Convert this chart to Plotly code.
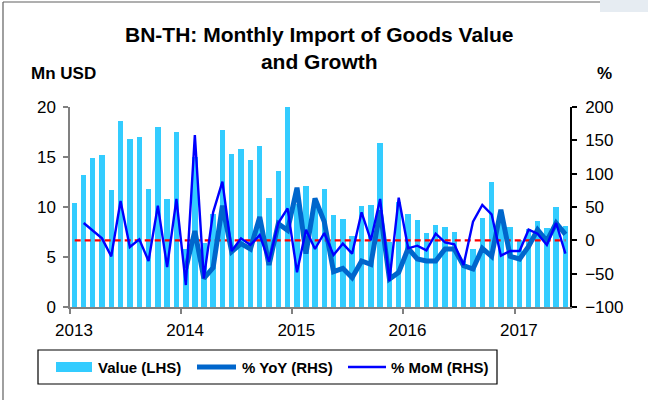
import plotly.graph_objects as go

# Monthly import of goods, Jan 2013 - Jun 2017
months = [f"{y}-{m:02d}-01" for y in range(2013, 2018) for m in range(1, 13)][:54]

value_mn_usd = [
    10.4, 13.2, 14.9, 15.2, 11.7, 18.6, 16.8, 17.0, 11.8, 18.0, 10.8, 17.5,
    5.8, 15.0, 6.4, 9.3, 17.7, 15.3, 15.8, 14.7, 16.1, 10.9, 13.6, 20.0,
    10.3, 12.1, 10.5, 11.8, 9.2, 8.8, 7.1, 10.1, 10.2, 16.4, 6.5, 10.5,
    9.3, 8.7, 7.4, 8.2, 8.0, 7.5, 4.6, 5.8, 8.9, 12.5, 9.5, 8.0,
    6.7, 7.8, 8.6, 7.9, 10.0, 8.1,
]

yoy_pct = [None] * 12 + [
    -42, 14, -57, -41, 52, -17, -5, -13, 35, -37, 25, 15,
    79, -20, 63, 28, -47, -42, -56, -31, -36, 45, -58, -48,
    -12, -28, -31, -31, -13, -13, -38, -43, -12, -24, 46, -24,
    -28, -9, 16, -1, 26, 9,
]

mom_pct = [None] + [
    26, 15, 3, -24, 59, -10, 1.5, -31, 52, -40, 62,
    -67, 158, -57, 42, 88, -16, 3, -7, 8, -32, 26, 48,
    -48, 16, -13, 11, -22, -5, -20, 42, 0, 62, -61, 64,
    -12, -8, -15, 10, -3, -6, -37, 28, 53, 39, -23, -16,
    -16, 16, 10, -7, 26, -20,
]

zero_line = [0] * len(months)

left_ticks = [0, 5, 10, 15, 20]
right_ticks = [-100, -50, 0, 50, 100, 150, 200]
year_ticks = ["2013-01-01", "2014-01-01", "2015-01-01", "2016-01-01", "2017-01-01"]
year_labels = ["2013", "2014", "2015", "2016", "2017"]

BAR_C = "#33CCFF"
YOY_C = "#0066CC"
MOM_C = "#0000FF"
FONT = "Liberation Sans, Arial, sans-serif"

W, H = 648, 400
L, R, T, B = 70, 570, 107, 307  # plot area in pixels


def px(x):
    return (x - L) / (R - L)


def py(y):
    return (B - y) / (B - T)


period = dict(xperiod="M1", xperiodalignment="middle")
day_ms = 86400000

fig = go.Figure()
fig.add_trace(go.Bar(
    x=months, y=value_mn_usd, name="Value (LHS)", marker_color=BAR_C,
    marker_line_width=0, width=18 * day_ms, yaxis="y", showlegend=False, **period,
))
fig.add_trace(go.Scatter(
    x=months, y=zero_line, mode="lines", yaxis="y2", showlegend=False,
    line=dict(color="#FF0000", width=2.2, dash="6px,4px"), **period,
))
fig.add_trace(go.Scatter(
    x=months, y=yoy_pct, name="% YoY (RHS)", mode="lines", yaxis="y2",
    line=dict(color=YOY_C, width=5), showlegend=False, **period,
))
fig.add_trace(go.Scatter(
    x=months, y=mom_pct, name="% MoM (RHS)", mode="lines", yaxis="y2",
    line=dict(color=MOM_C, width=2.4), showlegend=False, **period,
))

tickfont = dict(family=FONT, size=17, color="#000000")

fig.update_layout(
    width=W, height=H,
    margin=dict(l=L, r=W - R, t=T, b=H - B, pad=0),
    paper_bgcolor="white", plot_bgcolor="white",
    bargap=0,
    xaxis=dict(
        type="date", range=["2013-01-01", "2017-07-01"],
        tickvals=year_ticks, ticktext=year_labels,
        showgrid=False, zeroline=False,
        showline=True, linecolor="#808080", linewidth=1.5,
        ticks="outside", ticklen=5, tickcolor="#808080", tickwidth=1.5,
        tickfont=tickfont, ticklabelshift=4, ticklabelstandoff=2,
    ),
    yaxis=dict(
        range=[0, 20], tickvals=left_ticks, showgrid=False, zeroline=False,
        showline=True, linecolor="#808080", linewidth=1.5,
        ticks="outside", ticklen=5, tickcolor="#808080", tickwidth=1.5,
        tickfont=tickfont, ticklabelstandoff=4,
    ),
    yaxis2=dict(
        range=[-100, 200], tickvals=right_ticks, overlaying="y", side="right",
        showgrid=False, zeroline=False,
        showline=True, linecolor="#000000", linewidth=1.5,
        ticks="outside", ticklen=5, tickcolor="#000000", tickwidth=1.5,
        tickfont=tickfont, ticklabelstandoff=5,
    ),
    font=dict(family=FONT, color="#000000"),
)

annotations = [
    dict(text="<b>BN-TH: Monthly Import of Goods Value<br>and Growth</b>",
         x=px(319), y=py(48), font=dict(size=21)),
    dict(text="<b>Mn USD</b>", x=px(29), y=py(73), xanchor="left", font=dict(size=17)),
    dict(text="<b>%</b>", x=px(604), y=py(73), font=dict(size=17)),
    dict(text="<b>Value (LHS)</b>", x=px(96), y=py(367), xanchor="left", font=dict(size=15)),
    dict(text="<b>% YoY (RHS)</b>", x=px(240), y=py(367), xanchor="left", font=dict(size=15)),
    dict(text="<b>% MoM (RHS)</b>", x=px(389), y=py(367), xanchor="left", font=dict(size=15)),
]
for a in annotations:
    a.setdefault("xanchor", "center")
    a.update(xref="paper", yref="paper", yanchor="middle", showarrow=False)
    a["font"].update(family=FONT, color="#000000")
fig.update_layout(annotations=annotations)

shapes = [
    # outer frame: left and top edges
    dict(type="line", x0=px(3), x1=px(3), y0=py(2), y1=py(400),
         line=dict(color="#606060", width=1.2)),
    dict(type="line", x0=px(3), x1=px(600), y0=py(2), y1=py(2),
         line=dict(color="#606060", width=1.2)),
    dict(type="rect", x0=px(600), x1=px(648), y0=py(12), y1=py(0),
         fillcolor="#E6ECF2", line=dict(width=0)),
    # legend box and swatches
    dict(type="rect", x0=px(38), x1=px(497), y0=py(384), y1=py(350),
         line=dict(color="#000000", width=1.2)),
    dict(type="rect", x0=px(56), x1=px(92), y0=py(372), y1=py(362),
         fillcolor=BAR_C, line=dict(width=0)),
    dict(type="line", x0=px(197), x1=px(236), y0=py(367), y1=py(367),
         line=dict(color=YOY_C, width=5)),
    dict(type="line", x0=px(348), x1=px(386), y0=py(367), y1=py(367),
         line=dict(color=MOM_C, width=2.4)),
]
for s in shapes:
    s.update(xref="paper", yref="paper", layer="above")
fig.update_layout(shapes=shapes)

fig.write_html("out.html")
